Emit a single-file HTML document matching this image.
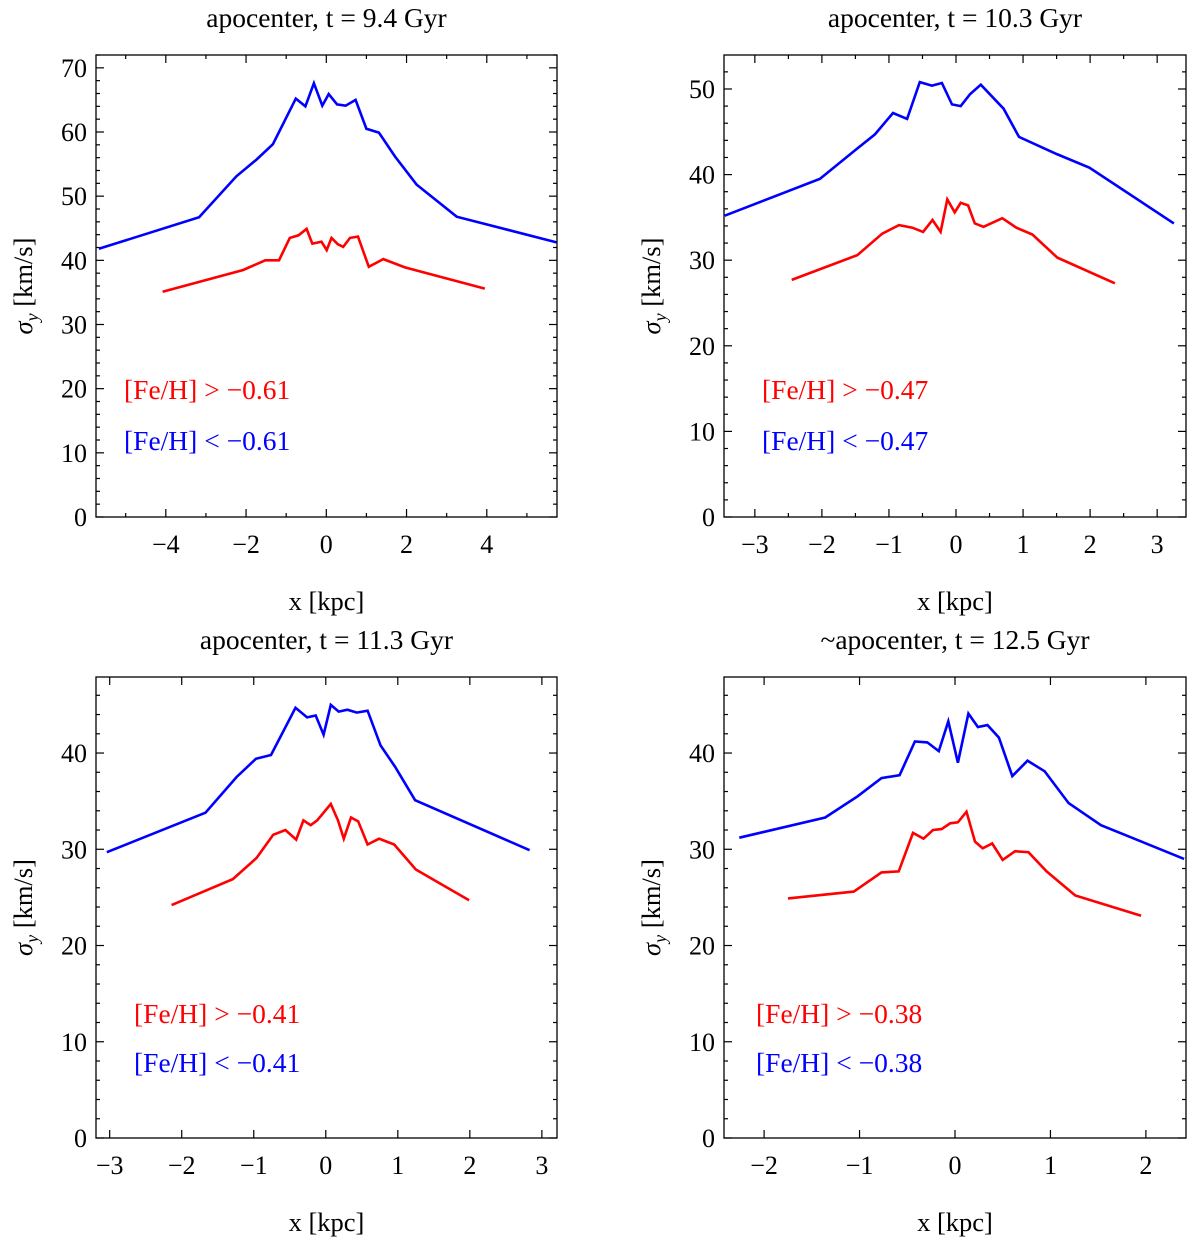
<!DOCTYPE html>
<html><head><meta charset="utf-8"><style>
body{margin:0;background:#fff;}
svg{display:block;font-family:"Liberation Serif",serif;}
</style></head><body>
<svg id="fig" width="1200" height="1237" viewBox="0 0 1200 1237" xmlns="http://www.w3.org/2000/svg"></svg>
<script>
// Panel 1 data
const p1BlueX=[-5.67,-3.17,-2.24,-1.74,-1.33,-0.76,-0.52,-0.31,-0.10,0.06,0.27,0.48,0.73,1.0,1.31,1.71,2.25,3.25,5.74];
const p1BlueY=[41.8,46.7,53.1,55.7,58.1,65.2,64.0,67.6,64.1,65.9,64.3,64.1,65.0,60.5,59.9,56.2,51.8,46.8,42.8];
const p1RedX=[-4.08,-2.07,-1.52,-1.18,-0.91,-0.69,-0.49,-0.35,-0.12,0.01,0.13,0.29,0.42,0.59,0.79,1.06,1.42,1.96,3.95];
const p1RedY=[35.1,38.5,40.0,40.0,43.5,43.9,44.9,42.6,42.9,41.6,43.5,42.5,42.1,43.5,43.7,39.0,40.2,38.9,35.6];
// Panel 2 data
const p2BlueX=[-3.45,-2.03,-1.48,-1.21,-0.94,-0.73,-0.54,-0.36,-0.21,-0.06,0.07,0.21,0.37,0.71,0.94,1.50,1.99,3.25];
const p2BlueY=[35.2,39.5,43.0,44.7,47.2,46.5,50.8,50.4,50.7,48.2,48.0,49.4,50.5,47.7,44.4,42.4,40.8,34.3];
const p2RedX=[-2.45,-1.47,-1.10,-0.85,-0.65,-0.49,-0.35,-0.23,-0.13,-0.02,0.07,0.18,0.28,0.41,0.69,0.90,1.14,1.51,2.37];
const p2RedY=[27.7,30.6,33.1,34.1,33.8,33.3,34.7,33.3,37.1,35.6,36.7,36.4,34.3,33.9,34.9,33.8,33.0,30.3,27.3];
// Panel 3 data
const p3BlueX=[-3.04,-1.67,-1.24,-0.97,-0.76,-0.42,-0.26,-0.14,-0.03,0.07,0.18,0.30,0.43,0.58,0.76,0.96,1.24,2.83];
const p3BlueY=[29.7,33.8,37.5,39.4,39.8,44.7,43.7,43.9,41.9,45.0,44.3,44.5,44.2,44.4,40.8,38.6,35.1,29.9];
const p3RedX=[-2.14,-1.29,-0.96,-0.73,-0.56,-0.41,-0.31,-0.21,-0.12,0.07,0.17,0.25,0.35,0.45,0.58,0.74,0.95,1.25,1.99];
const p3RedY=[24.2,26.9,29.1,31.5,32.0,31.0,33.0,32.5,33.0,34.7,33.0,31.1,33.3,32.9,30.5,31.1,30.5,27.9,24.7];
// Panel 4 data
const p4BlueX=[-2.26,-1.36,-1.02,-0.77,-0.58,-0.42,-0.29,-0.17,-0.07,0.03,0.14,0.24,0.34,0.46,0.60,0.76,0.94,1.19,1.53,2.40];
const p4BlueY=[31.2,33.3,35.5,37.4,37.7,41.2,41.1,40.2,43.3,39.0,44.1,42.7,42.9,41.6,37.6,39.2,38.1,34.8,32.5,29.0];
const p4RedX=[-1.75,-1.06,-0.77,-0.59,-0.44,-0.33,-0.23,-0.14,-0.05,0.03,0.12,0.21,0.29,0.39,0.50,0.63,0.77,0.96,1.26,1.95];
const p4RedY=[24.9,25.6,27.6,27.7,31.7,31.1,32.0,32.1,32.7,32.8,33.9,30.8,30.1,30.6,28.9,29.8,29.7,27.7,25.2,23.1];
const titles=["apocenter, t = 9.4 Gyr","apocenter, t = 10.3 Gyr","apocenter, t = 11.3 Gyr","~apocenter, t = 12.5 Gyr"];
const thresholds=["\u22120.61","\u22120.47","\u22120.41","\u22120.38"];
const xTickLabels1=[-4,-2,0,2,4];
const xTickLabels2=[-3,-2,-1,0,1,2,3];
const xTickLabels3=[-3,-2,-1,0,1,2,3];
const xTickLabels4=[-2,-1,0,1,2];
const yTickLabels1=[0,10,20,30,40,50,60,70];
const yTickLabels2=[0,10,20,30,40,50];
const yTickLabels3=[0,10,20,30,40];
const yTickLabels4=[0,10,20,30,40];

const NS="http://www.w3.org/2000/svg";
const svg=document.getElementById('fig');
function mk(tag,attrs,parent){const e=document.createElementNS(NS,tag);for(const k in attrs)e.setAttribute(k,attrs[k]);(parent||svg).appendChild(e);return e;}

const panels=[
 {L:96,R:557,T:55,B:517,xmin:-5.74,xmax:5.75,ymin:0,ymax:72.0,xt:xTickLabels1,xminor:1,yt:yTickLabels1,yminor:2,bx:p1BlueX,by:p1BlueY,rx:p1RedX,ry:p1RedY,legX:124,legY:[399,450],xl:601,ttl:27},
 {L:724,R:1186,T:55,B:517,xmin:-3.46,xmax:3.43,ymin:0,ymax:53.97,xt:xTickLabels2,xminor:0.5,yt:yTickLabels2,yminor:2,bx:p2BlueX,by:p2BlueY,rx:p2RedX,ry:p2RedY,legX:762,legY:[399,450],xl:601,ttl:27},
 {L:96,R:557,T:677,B:1138,xmin:-3.19,xmax:3.21,ymin:0,ymax:47.9,xt:xTickLabels3,xminor:1,yt:yTickLabels3,yminor:2,bx:p3BlueX,by:p3BlueY,rx:p3RedX,ry:p3RedY,legX:134,legY:[1023,1072],xl:1222,ttl:649},
 {L:724,R:1186,T:677,B:1138,xmin:-2.42,xmax:2.42,ymin:0,ymax:47.9,xt:xTickLabels4,xminor:1,yt:yTickLabels4,yminor:2,bx:p4BlueX,by:p4BlueY,rx:p4RedX,ry:p4RedY,legX:756,legY:[1023,1072],xl:1222,ttl:649}
];

panels.forEach((p,i)=>{
  const g=mk('g',{});
  
  
  const sx=v=>p.L+(v-p.xmin)/(p.xmax-p.xmin)*(p.R-p.L);
  const sy=v=>p.B-(v-p.ymin)/(p.ymax-p.ymin)*(p.B-p.T);
  const tg=mk('g',{stroke:'#000','stroke-width':1.2},g);
  
  
  const eps=1e-6;
  for(let v=Math.ceil(p.xmin/p.xminor)*p.xminor;v<=p.xmax+eps;v+=p.xminor){
    const vv=Math.round(v*1000)/1000;
    const major=p.xt.some(t=>Math.abs(t-vv)<eps);
    const len=major?8:4;const x=sx(vv);
    mk('line',{x1:x,x2:x,y1:p.B,y2:p.B-len},tg);
    mk('line',{x1:x,x2:x,y1:p.T,y2:p.T+len},tg);
  }
  for(let v=p.ymin;v<=p.ymax+eps;v+=p.yminor){
    const major=p.yt.some(t=>Math.abs(t-v)<eps);
    const len=major?8:4;const y=sy(v);
    mk('line',{x1:p.L,x2:p.L+len,y1:y,y2:y},tg);
    mk('line',{x1:p.R,x2:p.R-len,y1:y,y2:y},tg);
  }
  p.xt.forEach(t=>{
    const e=mk('text',{x:sx(t),y:p.B+36,'text-anchor':'middle','font-size':26},g);
    
    
    e.textContent=t<0?'\u2212'+Math.abs(t):String(t);
  });
  p.yt.forEach(t=>{
    const e=mk('text',{x:p.L-9,y:sy(t)+9,'text-anchor':'end','font-size':26},g);
    
    
    e.textContent=String(t);
  });
  const line=(xs,ys,col,name)=>{
    const pts=xs.map((x,k)=>sx(x).toFixed(1)+','+sy(ys[k]).toFixed(1)).join(' ');
    const e=mk('polyline',{points:pts,fill:'none',stroke:col,'stroke-width':2.6,'stroke-linejoin':'miter'},g);
    
    
  };
  line(p.bx,p.by,'#0000ff','metal-poor-line');
  line(p.rx,p.ry,'#ff0000','metal-rich-line');
  const f=mk('rect',{x:p.L,y:p.T,width:p.R-p.L,height:p.B-p.T,fill:'none',stroke:'#000','stroke-width':1.3},g);
  
  
  const tt=mk('text',{x:(p.L+p.R)/2,y:p.ttl,'text-anchor':'middle','font-size':27.5},g);
  
  
  tt.textContent=titles[i];
  const xl=mk('text',{x:(p.L+p.R)/2,y:p.xl+9,'text-anchor':'middle','font-size':26.5},g);
  
  
  xl.textContent='x [kpc]';
  const yx=p.L-64, yy=(p.T+p.B)/2;
  const yl=mk('text',{x:yx,y:yy,'text-anchor':'middle','font-size':26.5,transform:`rotate(-90 ${yx} ${yy})`},g);
  
  
  const s1=mk('tspan',{'font-style':'italic'},yl);s1.textContent='\u03c3';
  const s2=mk('tspan',{'font-style':'italic','font-size':18,dy:6},yl);s2.textContent='y';
  const s3=mk('tspan',{dy:-6},yl);s3.textContent=' [km/s]';
  const l1=mk('text',{x:p.legX,y:p.legY[0],'font-size':27.5,fill:'#ff0000'},g);
  
  
  l1.textContent='[Fe/H] > '+thresholds[i];
  const l2=mk('text',{x:p.legX,y:p.legY[1],'font-size':27.5,fill:'#0000ff'},g);
  
  
  l2.textContent='[Fe/H] < '+thresholds[i];
});
</script>
</body></html>
